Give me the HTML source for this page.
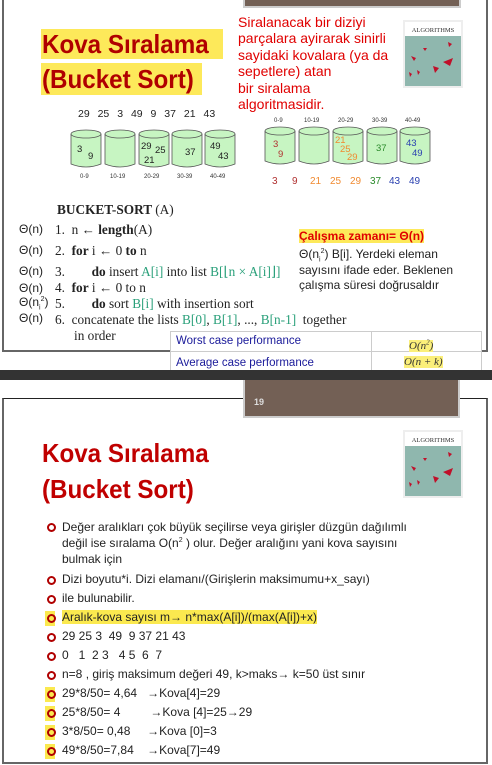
<!DOCTYPE html>
<html><head><meta charset="utf-8"><style>
body{margin:0;width:492px;height:765px;position:relative;overflow:hidden;background:#fff;font-family:"Liberation Sans",sans-serif}
.a{position:absolute;white-space:nowrap}
.t{font-family:"Liberation Sans",sans-serif;font-weight:bold;color:#b00000;font-size:26px;transform:scaleX(0.93);transform-origin:left top}
.ser{font-family:"Liberation Serif",serif;font-size:13.3px;color:#222}
.th{font-size:12px;color:#222}
.g{color:#2aa07a}
.bl{font-size:12px;color:#222}
.dot{position:absolute;width:5px;height:5px;border:2px solid #b00000;border-radius:50%;left:47px}
.hl{background:#fbe94f}
sup,sub{line-height:0}
</style></head><body>
<div class="a" style="left:2px;top:-2px;width:482px;height:352px;border:2px solid #666;border-top:none"></div>
<div class="a" style="left:243px;top:0;width:214px;height:6px;background:#736055;border:2px solid #ccc;border-top:none"></div>
<div class="a" style="left:41px;top:29px;width:182px;height:30px;background:#fde95a"></div>
<div class="a" style="left:41px;top:63px;width:161px;height:32px;background:#fde95a"></div>
<div class="a t" style="left:42px;top:27px;line-height:34px">Kova Sıralama</div>
<div class="a t" style="left:42px;top:62px;line-height:34px">(Bucket Sort)</div>
<div class="a" style="left:238px;top:14px;font-size:14px;line-height:16.4px;color:#e00000">Siralanacak bir diziyi<br>parçalara ayirarak sinirli<br>sayidaki kovalara (ya da<br>sepetlere) atan<br>bir siralama<br>algoritmasidir.</div>
<svg class="a" style="left:403px;top:20px" width="61" height="69"><rect x="0" y="0" width="60" height="68" fill="#eee"/><rect x="2" y="2" width="56" height="14" fill="#fff"/><text x="30" y="12" font-size="6.5" text-anchor="middle" font-family="Liberation Serif" fill="#333">ALGORITHMS</text><rect x="2" y="16" width="56" height="50" fill="#8fb7ae"/><path d="M40 42l10-4-3 8z M30 46l6 2-4 5z M8 36l5 2-2 3z M20 28l4 0-2 3z M6 52l3 2-2 3z M14 50l3 2-2 3z M45 22l4 2-3 3z" fill="#c0102a"/></svg>
<div class="a" style="left:78px;top:108px;font-size:10.5px;color:#222;word-spacing:5px">29 25 3 49 9 37 21 43</div>
<svg class="a" style="left:0;top:110px" width="492" height="80" font-family="Liberation Sans" font-size="9.5">
<g fill="#c7f5c2" stroke="#555" stroke-width="0.8">
<path d="M71 24v30q15 6 30 0v-30"/><ellipse cx="86" cy="24" rx="15" ry="4"/>
<path d="M105 24v30q15 6 30 0v-30"/><ellipse cx="120" cy="24" rx="15" ry="4"/>
<path d="M139 24v30q15 6 30 0v-30"/><ellipse cx="154" cy="24" rx="15" ry="4"/>
<path d="M172 24v30q15 6 30 0v-30"/><ellipse cx="187" cy="24" rx="15" ry="4"/>
<path d="M205 24v30q15 6 30 0v-30"/><ellipse cx="220" cy="24" rx="15" ry="4"/>
<path d="M265 21v30q15 6 30 0v-30"/><ellipse cx="280" cy="21" rx="15" ry="4"/>
<path d="M299 21v30q15 6 30 0v-30"/><ellipse cx="314" cy="21" rx="15" ry="4"/>
<path d="M333 21v30q15 6 30 0v-30"/><ellipse cx="348" cy="21" rx="15" ry="4"/>
<path d="M367 21v30q15 6 30 0v-30"/><ellipse cx="382" cy="21" rx="15" ry="4"/>
<path d="M400 21v30q15 6 30 0v-30"/><ellipse cx="415" cy="21" rx="15" ry="4"/>
</g>
<g fill="#222"><text x="77" y="42">3</text><text x="88" y="49">9</text><text x="141" y="39">29</text><text x="155" y="43">25</text><text x="144" y="53">21</text><text x="185" y="45">37</text><text x="210" y="39">49</text><text x="218" y="49">43</text></g>
<g fill="#333" font-size="6"><text x="80" y="68">0-9</text><text x="110" y="68">10-19</text><text x="144" y="68">20-29</text><text x="177" y="68">30-39</text><text x="210" y="68">40-49</text>
<text x="274" y="12">0-9</text><text x="304" y="12">10-19</text><text x="338" y="12">20-29</text><text x="372" y="12">30-39</text><text x="405" y="12">40-49</text></g>
<g><text x="273" y="37" fill="#b03030">3</text><text x="278" y="47" fill="#b03030">9</text><text x="335" y="33" fill="#f08a30">21</text><text x="340" y="42" fill="#f08a30">25</text><text x="347" y="50" fill="#f08a30">29</text><text x="376" y="41" fill="#2a8a2a">37</text><text x="406" y="36" fill="#2a40b0">43</text><text x="412" y="46" fill="#2a40b0">49</text></g>
<g font-size="10"><text x="272" y="74" fill="#b03030">3</text><text x="292" y="74" fill="#b03030">9</text><text x="310" y="74" fill="#f08a30">21</text><text x="330" y="74" fill="#f08a30">25</text><text x="350" y="74" fill="#f08a30">29</text><text x="370" y="74" fill="#2a8a2a">37</text><text x="389" y="74" fill="#2a40b0">43</text><text x="409" y="74" fill="#2a40b0">49</text></g>
</svg>
<div class="a ser" style="left:57px;top:202px;font-weight:bold">BUCKET-SORT <span style="font-weight:normal">(A)</span></div>
<div class="a th" style="left:19px;top:222px">Θ(n)</div><div class="a ser" style="left:55px;top:222px">1.&nbsp; n <b>←</b> <b>length</b>(A)</div>
<div class="a th" style="left:19px;top:243px">Θ(n)</div><div class="a ser" style="left:55px;top:243px">2.&nbsp; <b>for</b> i ← 0 <b>to</b> n</div>
<div class="a th" style="left:19px;top:264px">Θ(n)</div><div class="a ser" style="left:55px;top:264px">3.&nbsp;&nbsp;&nbsp;&nbsp;&nbsp;&nbsp;&nbsp; <b>do</b> insert <span class="g">A[i]</span> into list <span class="g">B[⌊n × A[i]⌋]</span></div>
<div class="a th" style="left:19px;top:281px">Θ(n)</div><div class="a ser" style="left:55px;top:280px">4.&nbsp; <b>for</b> i ← 0 to n</div>
<div class="a th" style="left:19px;top:295px">Θ(n<sub style="font-size:7px">i</sub><sup style="font-size:7px">2</sup>)</div><div class="a ser" style="left:55px;top:296px">5.&nbsp;&nbsp;&nbsp;&nbsp;&nbsp;&nbsp;&nbsp; <b>do</b> sort <span class="g">B[i]</span> with insertion sort</div>
<div class="a th" style="left:19px;top:311px">Θ(n)</div><div class="a ser" style="left:55px;top:312px">6.&nbsp; concatenate the lists <span class="g">B[0]</span>, <span class="g">B[1]</span>, ..., <span class="g">B[n-1]</span>&nbsp; together</div>
<div class="a ser" style="left:74px;top:328px">in order</div>
<div class="a" style="left:299px;top:229px;font-size:12px;font-weight:bold;color:#e00000;background:#fde95a">Çalışma zamanı= Θ(n)</div>
<div class="a" style="left:299px;top:247px;font-size:12px;color:#222">Θ(n<sub style="font-size:7px">i</sub><sup style="font-size:7px">2</sup>) B[i]. Yerdeki eleman</div>
<div class="a" style="left:299px;top:263px;font-size:12px;color:#222">sayısını ifade eder. Beklenen</div>
<div class="a" style="left:299px;top:278px;font-size:12px;color:#222">çalışma süresi doğrusaldır</div>
<div class="a" style="left:170px;top:331px;width:310px;height:40px;background:#fff;border:1px solid #ccc;border-bottom:none"></div>
<div class="a" style="left:170px;top:351px;width:311px;height:1px;background:#ccc"></div>
<div class="a" style="left:371px;top:331px;width:1px;height:40px;background:#ccc"></div>
<div class="a" style="left:176px;top:335px;font-size:11.5px;color:#1a1a9a">Worst case performance</div>
<div class="a" style="left:176px;top:357px;font-size:11.5px;color:#1a1a9a">Average case performance</div>
<div class="a" style="left:409px;top:340px;font-family:'Liberation Serif',serif;font-style:italic;font-size:11px;color:#333;background:#fbef7a">O(n<sup style="font-size:7px">2</sup>)</div>
<div class="a" style="left:404px;top:356px;font-family:'Liberation Serif',serif;font-style:italic;font-size:11px;color:#333;background:#fbef7a">O(n + k)</div>
<div class="a" style="left:0;top:370px;width:492px;height:10px;background:#333"></div>
<div class="a" style="left:2px;top:398px;width:482px;height:363px;border:2px solid #666;border-top:1px solid #222"></div>
<div class="a" style="left:243px;top:380px;width:213px;height:36px;background:#736055;border:2px solid #ccc;border-top:none"></div>
<div class="a" style="left:254px;top:397px;font-size:9px;color:#ddd;font-weight:bold">19</div>
<div class="a t" style="left:42px;top:436px;line-height:34px;color:#c00000">Kova Sıralama</div>
<div class="a t" style="left:42px;top:472px;line-height:34px;color:#c00000">(Bucket Sort)</div>
<svg class="a" style="left:403px;top:430px" width="61" height="69"><rect x="0" y="0" width="60" height="68" fill="#eee"/><rect x="2" y="2" width="56" height="14" fill="#fff"/><text x="30" y="12" font-size="6.5" text-anchor="middle" font-family="Liberation Serif" fill="#333">ALGORITHMS</text><rect x="2" y="16" width="56" height="50" fill="#8fb7ae"/><path d="M40 42l10-4-3 8z M30 46l6 2-4 5z M8 36l5 2-2 3z M20 28l4 0-2 3z M6 52l3 2-2 3z M14 50l3 2-2 3z M45 22l4 2-3 3z" fill="#c0102a"/></svg>
<div class="dot" style="top:523px"></div><div class="a bl" style="left:62px;top:519px;line-height:16px">Değer aralıkları çok büyük seçilirse veya girişler düzgün dağılımlı<br>değil ise sıralama O(n<sup style="font-size:7px">2</sup> ) olur. Değer aralığını yani kova sayısını<br>bulmak için</div>
<div class="dot" style="top:576px"></div><div class="a bl" style="left:62px;top:572px">Dizi boyutu*i. Dizi elamanı/(Girişlerin maksimumu+x_sayı)</div>
<div class="dot" style="top:595px"></div><div class="a bl" style="left:62px;top:591px">ile bulunabilir.</div>
<div class="a hl" style="left:45px;top:611px;width:10px;height:15px"></div>
<div class="dot" style="top:614px"></div><div class="a bl hl" style="left:62px;top:610px">Aralık-kova sayısı m<b>→</b> n*max(A[i])/(max(A[i])+x)</div>
<div class="dot" style="top:633px"></div><div class="a bl" style="left:62px;top:629px">29 25 3&nbsp; 49&nbsp; 9 37 21 43</div>
<div class="dot" style="top:652px"></div><div class="a bl" style="left:62px;top:648px">0&nbsp;&nbsp; 1&nbsp; 2 3&nbsp;&nbsp; 4 5&nbsp; 6&nbsp; 7</div>
<div class="dot" style="top:671px"></div><div class="a bl" style="left:62px;top:667px">n=8 , giriş maksimum değeri 49, k&gt;maks<b>→</b> k=50 üst sınır</div>
<div class="a hl" style="left:45px;top:687px;width:10px;height:15px"></div>
<div class="dot" style="top:690px"></div><div class="a bl" style="left:62px;top:686px">29*8/50= 4,64&nbsp;&nbsp; <b>→</b>Kova[4]=29</div>
<div class="a hl" style="left:45px;top:706px;width:10px;height:15px"></div>
<div class="dot" style="top:709px"></div><div class="a bl" style="left:62px;top:705px">25*8/50= 4&nbsp;&nbsp;&nbsp;&nbsp;&nbsp;&nbsp;&nbsp;&nbsp; <b>→</b>Kova [4]=25<b>→</b>29</div>
<div class="a hl" style="left:45px;top:725px;width:10px;height:15px"></div>
<div class="dot" style="top:728px"></div><div class="a bl" style="left:62px;top:724px">3*8/50= 0,48&nbsp;&nbsp;&nbsp;&nbsp; <b>→</b>Kova [0]=3</div>
<div class="a hl" style="left:45px;top:744px;width:10px;height:15px"></div>
<div class="dot" style="top:747px"></div><div class="a bl" style="left:62px;top:743px">49*8/50=7,84&nbsp;&nbsp;&nbsp; <b>→</b>Kova[7]=49</div>
</body></html>
